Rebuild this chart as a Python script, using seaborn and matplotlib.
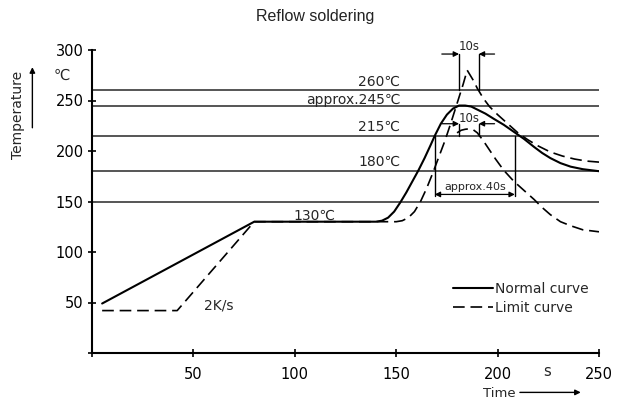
import matplotlib
matplotlib.use('Agg')
import matplotlib.pyplot as plt
import seaborn as sns

# Reflow profile values
normal_t = [5, 80, 140, 143, 146, 149, 152, 155, 158, 161, 164, 167, 169, 172, 175, 178, 181,
            184, 187, 190, 194, 198, 203, 208, 213, 218, 222, 226, 231, 236, 242, 250]
normal_temp = [49, 130, 130, 131, 134, 140, 149, 159, 170, 181, 193, 206, 215, 227, 236, 242, 245,
               245, 244, 241, 237, 232, 226, 219, 212, 204, 198, 193, 188, 184.5, 182, 180]

limit_t = [5, 42, 80, 150, 153, 156, 159, 162, 165, 168, 171, 174, 177, 180, 183, 185,
           188, 190, 193, 196, 200, 205, 210, 215, 220, 226, 232, 238, 244, 250]
limit_temp = [42, 42, 130, 130, 131, 134, 140, 150, 163, 178, 194, 210, 228, 247, 266, 280,
              270, 262, 252, 244, 236, 227, 218, 211, 205, 199, 195, 192, 190, 189]

limit_low_t = [180, 182, 184, 186, 188, 190, 193, 196, 199, 203, 208, 213, 218, 222, 226,
               231, 236, 242, 250]
limit_low_temp = [218, 220.5, 221.5, 222, 221, 218, 210, 201, 192, 181, 170, 161, 152, 144, 137,
                  130, 126, 122, 120]

ref_levels = [260, 245, 215, 180, 150]
ref_labels = [(152, 268, '260℃'), (152, 250.5, 'approx.245℃'), (152, 224, '215℃'),
              (152, 189, '180℃'), (120, 135.5, '130℃'), (70, 47.5, '2K/s')]

x_ticks = [0, 50, 100, 150, 200, 250]
y_ticks = [0, 50, 100, 150, 200, 250, 300]

sns.set_style('ticks')
plt.rcParams['font.family'] = ['DejaVu Sans']

fig = plt.figure(figsize=(6.34, 4.01), dpi=100)
ax = fig.add_axes([92 / 634, 1 - 353 / 401, 507 / 634, 303 / 401])

for lv in ref_levels:
    ax.axhline(lv, color='#555555', lw=1.4, zorder=1)

sns.lineplot(x=normal_t, y=normal_temp, ax=ax, color='black', lw=1.5, label='Normal curve',
             sort=False, estimator=None)
sns.lineplot(x=limit_t, y=limit_temp, ax=ax, color='black', lw=1.2, label='Limit curve',
             sort=False, estimator=None)
sns.lineplot(x=limit_low_t, y=limit_low_temp, ax=ax, color='black', lw=1.2,
             sort=False, estimator=None)
for ln in ax.get_lines()[len(ref_levels) + 1:]:
    ln.set_linestyle((0, (7, 3.5)))

for x, y, s in ref_labels:
    ax.text(x, y, s, ha='right', va='center', fontsize=10)

# 10s windows and 40s window
arrow = dict(arrowstyle='-|>', color='black', lw=0.9, mutation_scale=8, shrinkA=0, shrinkB=0)
for y0, y1, yt in [(260, 296, 303), (215, 227, 232)]:
    ax.plot([181, 181], [y0, y1], color='black', lw=1.0, clip_on=False)
    ax.plot([190.7, 190.7], [y0, y1], color='black', lw=1.0, clip_on=False)
    ax.annotate('', xy=(181, y1), xytext=(172.5, y1), arrowprops=arrow, annotation_clip=False)
    ax.annotate('', xy=(190.7, y1), xytext=(198.5, y1), arrowprops=arrow, annotation_clip=False)
    ax.text(185.8, yt, '10s', ha='center', va='center', fontsize=8.5, clip_on=False)

ax.plot([169, 169], [155, 215], color='black', lw=1.0)
ax.plot([208.5, 208.5], [155, 215], color='black', lw=1.0)
ax.annotate('', xy=(208.5, 157), xytext=(169, 157),
            arrowprops=dict(arrowstyle='<|-|>', color='black', lw=0.9, mutation_scale=8,
                            shrinkA=0, shrinkB=0))
ax.text(189, 164, 'approx.40s', ha='center', va='center', fontsize=8)

ax.set_xlim(0, 250)
ax.set_ylim(0, 300)
ax.set_xticks(x_ticks)
ax.set_xticklabels([''] + [str(v) for v in x_ticks[1:]])
ax.set_yticks(y_ticks)
ax.set_yticklabels([''] + [str(v) for v in y_ticks[1:]])
ax.tick_params(axis='both', direction='inout', length=6, width=1.2, labelsize=10.5, colors='black')
ax.tick_params(axis='x', pad=7)
ax.tick_params(axis='y', pad=3)
sns.despine(ax=ax)
for sp in ['left', 'bottom']:
    ax.spines[sp].set_linewidth(1.5)
    ax.spines[sp].set_color('black')
ax.set_xlabel('')
ax.set_ylabel('')

# axis annotations
ax.text(224.5, -18.5, 's', ha='center', va='center', fontsize=10.5, clip_on=False)
ax.text(200.8, -40.5, 'Time', ha='center', va='center', fontsize=9.5, clip_on=False)
ax.annotate('', xy=(241, -39), xytext=(211, -39), annotation_clip=False,
            arrowprops=dict(arrowstyle='-|>', color='black', lw=1.0, mutation_scale=8,
                            shrinkA=0, shrinkB=0))
ax.text(-14.7, 275, '℃', ha='center', va='center', fontsize=10.5, clip_on=False)
ax.text(-36.3, 236, 'Temperature', rotation=90, ha='center', va='center', fontsize=10,
        clip_on=False)
ax.annotate('', xy=(-29.4, 283), xytext=(-29.4, 223), annotation_clip=False,
            arrowprops=dict(arrowstyle='-|>', color='black', lw=1.0, mutation_scale=8,
                            shrinkA=0, shrinkB=0))

ax.legend(frameon=False, loc='upper left', bbox_to_anchor=(0.712, 0.235), borderpad=0,
          borderaxespad=0, handlelength=2.9, handletextpad=0.15, labelspacing=0.35, fontsize=10)

fig.text(315 / 634, 1 - 17 / 401, 'Reflow soldering', ha='center', va='center', fontsize=11.5,
         family=['Liberation Sans'], color='#222222')

fig.savefig('out.png', dpi=100)
